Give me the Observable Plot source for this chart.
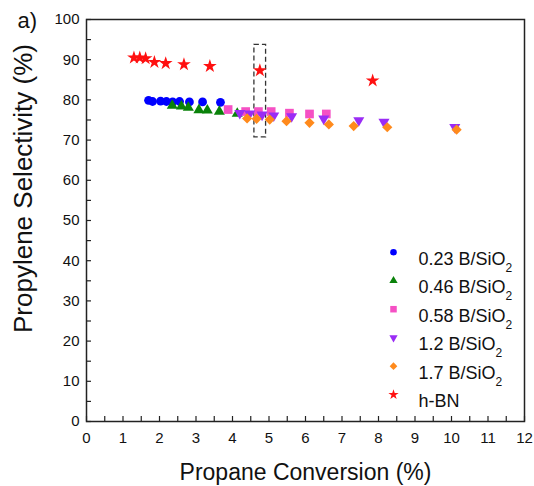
<!DOCTYPE html>
<html><head><meta charset="utf-8">
<script src="https://cdn.jsdelivr.net/npm/d3@7"></script>
<script src="https://cdn.jsdelivr.net/npm/@observablehq/plot@0.6"></script>
<style>body{margin:0;background:#fff}</style>
</head><body><div id="chart"></div>
<script>
// ---- data ----
const seriesNames = ["0.23 B/SiO2", "0.46 B/SiO2", "0.58 B/SiO2", "1.2 B/SiO2", "1.7 B/SiO2", "h-BN"];
const x023 = [1.70, 1.81, 2.03, 2.19, 2.36, 2.55, 2.82, 3.18, 3.67];
const y023 = [79.9, 79.6, 79.7, 79.6, 79.5, 79.6, 79.5, 79.5, 79.4];
const x046 = [2.35, 2.60, 2.79, 3.08, 3.31, 3.64, 4.13];
const y046 = [78.6, 78.4, 78.1, 77.5, 77.4, 77.1, 76.6];
const x058 = [3.88, 4.36, 4.71, 5.06, 5.56, 6.11, 6.57];
const y058 = [77.6, 77.1, 77.1, 77.1, 76.7, 76.5, 76.5];
const x12 = [4.20, 4.47, 4.81, 5.13, 5.62, 6.50, 7.46, 8.15, 10.09];
const y12 = [76.7, 76.6, 76.3, 76.1, 75.9, 75.3, 74.9, 74.5, 73.2];
const x17 = [4.40, 4.66, 5.02, 5.48, 6.11, 6.64, 7.32, 8.24, 10.14];
const y17 = [75.4, 75.3, 75.1, 74.7, 74.3, 73.9, 73.5, 73.2, 72.6];
const xBN = [1.30, 1.46, 1.62, 1.86, 2.17, 2.67, 3.38, 4.75, 7.84];
const yBN = [90.5, 90.5, 90.3, 89.4, 89.1, 88.8, 88.4, 87.3, 84.8];
const boxX = [4.60, 4.92];   // dashed highlight box (data units)
const boxY = [70.7, 93.7];
const xTickLabels = [0,1,2,3,4,5,6,7,8,9,10,11,12];
const yTickLabels = [0,10,20,30,40,50,60,70,80,90,100];
const xTitle = "Propane Conversion (%)";
const yTitle = "Propylene Selectivity (%)";
const panelTag = "a)";

// ---- styling ----
const colors = ["#0000ff", "#0a820a", "#f550c4", "#9a2cf5", "#ff8a1c", "#ff1010"];
const triDown = {draw(ctx, size) {
  const y = -Math.sqrt(size / (Math.sqrt(3) * 3));
  ctx.moveTo(0, -y * 2);
  ctx.lineTo(-Math.sqrt(3) * y, y);
  ctx.lineTo(Math.sqrt(3) * y, y);
  ctx.closePath();
}};
const symbols = ["circle", "triangle", "square", triDown, "diamond2", "star"];
const radii = [4.4, 4.1, 4.9, 4.1, 4.6, 4.3];
const xs = [x023, x046, x058, x12, x17, xBN];
const ys = [y023, y046, y058, y12, y17, yBN];
const series = seriesNames.map((name, i) => xs[i].map((x, j) => ({series: name, x, y: ys[i][j]})));

const W = 534, H = 486, mL = 86, mR = 10, mT = 19, mB = 65;
const pw = W - mL - mR, ph = H - mT - mB;
const font = "'Liberation Sans', Arial, Helvetica, sans-serif";
const ink = "#222";
const xScale = d3.scaleLinear([0, 12], [mL, W - mR]);
const yScale = d3.scaleLinear([0, 100], [H - mB, mT]);

const marks = [];
// inward ticks
const xMinor = d3.range(0, 12.01, 0.5);
const yMinor = d3.range(0, 100.01, 5);
marks.push(Plot.tickX(xMinor, {x: d => d, insetTop: ph - 5, stroke: ink, strokeWidth: 1.2}));
marks.push(Plot.tickY(yMinor, {y: d => d, insetRight: pw - 5, stroke: ink, strokeWidth: 1.2}));
// highlight box
marks.push(Plot.rect([0], {x1: () => boxX[0], x2: () => boxX[1], y1: () => boxY[0], y2: () => boxY[1],
  fill: "none", stroke: "#333", strokeWidth: 1.3, strokeDasharray: "5,3"}));
// data
series.forEach((pts, i) => {
  marks.push(Plot.dot(pts, {x: "x", y: "y", symbol: () => symbols[i], r: radii[i], fill: colors[i], stroke: "none"}));
});
// legend
const legX = 393, legText = 418, legY0 = 251.7, legStep = 28.5;
seriesNames.forEach((name, i) => {
  marks.push(Plot.dot([name], {frameAnchor: "top-left", dx: legX - mL, dy: legY0 + i * legStep - mT,
    symbol: () => symbols[i], r: radii[i] * 0.75, fill: colors[i], stroke: "none"}));
  marks.push(Plot.text([name], {frameAnchor: "top-left", dx: legText - mL, dy: legY0 + i * legStep - mT,
    text: d => d, textAnchor: "start", fontSize: 18, fill: "#111"}));
});
// titles (positioned in pixel space converted to data space)
marks.push(Plot.text([xTitle], {frameAnchor: "bottom", dy: 58, text: d => d, fontSize: 23, fill: "#111"}));
marks.push(Plot.text([yTitle], {x: () => xScale.invert(23), y: () => yScale.invert(188), rotate: -90,
  text: d => d, fontSize: 26, fill: "#111", letterSpacing: "0.8px"}));
marks.push(Plot.text([panelTag], {x: () => xScale.invert(17), y: () => yScale.invert(20),
  text: d => d, textAnchor: "start", fontSize: 22, fill: "#111"}));
marks.push(Plot.frame({stroke: ink, strokeWidth: 1.5}));

const chart = Plot.plot({
  width: W, height: H, marginLeft: mL, marginRight: mR, marginTop: mT, marginBottom: mB,
  style: {fontFamily: font, fontSize: "15px", color: "#111", background: "white", overflow: "visible"},
  x: {domain: [0, 12], ticks: xTickLabels, tickSize: 0, tickPadding: 11, label: null, tickFormat: d => String(d)},
  y: {domain: [0, 100], ticks: yTickLabels, tickSize: 0, tickPadding: 7, label: null, tickFormat: d => String(d)},
  marks
});
document.getElementById("chart").appendChild(chart);

// subscript the "2" in SiO2 legend labels
chart.querySelectorAll("text").forEach(t => {
  const s = t.textContent;
  if (/SiO2$/.test(s)) {
    t.textContent = s.slice(0, -1);
    const ts = document.createElementNS("http://www.w3.org/2000/svg", "tspan");
    ts.setAttribute("dy", "7");
    ts.setAttribute("font-size", "12");
    ts.textContent = "2";
    t.appendChild(ts);
  }
});
</script>
</body></html>
